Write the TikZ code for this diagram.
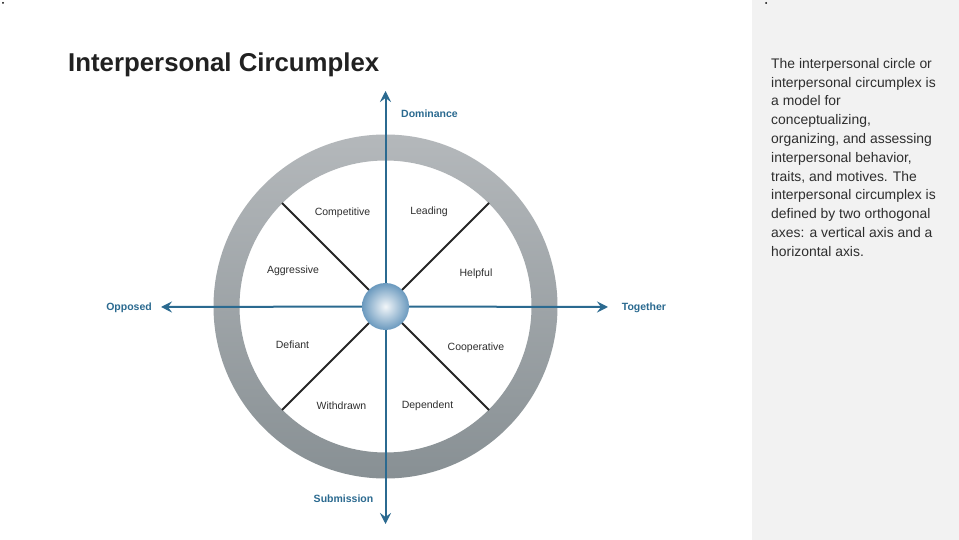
\documentclass[tikz,border=0pt]{standalone}
\usepackage{fontspec}
\setmainfont{Liberation Sans}
\usetikzlibrary{arrows.meta,calc}
\definecolor{axisblue}{HTML}{2B6A90}
\definecolor{ringtop}{HTML}{B4B8BB}
\definecolor{ringbot}{HTML}{889094}
\definecolor{ballout}{HTML}{6A99BE}
\definecolor{ballin}{HTML}{F2F6F9}
\definecolor{panel}{HTML}{F2F2F2}
\definecolor{txt}{HTML}{2E2E2E}
\definecolor{spk}{HTML}{262626}
\tikzset{
  axis/.style={draw=axisblue, line width=2pt, -{Stealth[length=11pt,width=11pt,inset=4pt]}},
  spoke/.style={draw=spk, line width=2pt},
  lab/.style={font=\fontsize{10.5}{12}\selectfont, text=txt, inner sep=0pt},
  pole/.style={font=\bfseries\fontsize{10.5}{12}\selectfont, text=axisblue, inner sep=0pt},
}
\begin{document}
\begin{tikzpicture}[x=1pt,y=-1pt]
\useasboundingbox (0,0) rectangle (959,540);
\fill[white] (0,0) rectangle (959,540);
\fill[panel] (752,0) rectangle (959,540);
\fill[black] (3,3) circle (1);
\fill[black] (766,3) circle (1);
% title
\node[anchor=base west, inner sep=0pt, font=\bfseries\fontsize{25.8}{30}\selectfont, text=black!87] (title) at (68,72) {Interpersonal Circumplex};
% ring
\coordinate (c) at (385.5,306.5);
\shade[top color=ringtop, bottom color=ringbot, even odd rule] (c) circle (172) (c) circle (146);
% spokes
\coordinate (ulo) at ($(c)+(-103.5,-103.5)$);
\coordinate (uro) at ($(c)+(103.5,-103.5)$);
\coordinate (llo) at ($(c)+(-103.5,103.5)$);
\coordinate (lro) at ($(c)+(103.5,103.5)$);
\coordinate (uli) at ($(c)+(-16,-16)$);
\coordinate (uri) at ($(c)+(16,-16)$);
\coordinate (lli) at ($(c)+(-16,16)$);
\coordinate (lri) at ($(c)+(16,16)$);
\draw[spoke] (uli) -- (ulo);
\draw[spoke] (uri) -- (uro);
\draw[spoke] (lli) -- (llo);
\draw[spoke] (lri) -- (lro);
% axes
\coordinate (top) at (385.5,91);
\coordinate (bot) at (385.5,524);
\coordinate (lft) at (161,307);
\coordinate (rgt) at (608,307);
\draw[axis] (c) -- (top);
\draw[axis] (c) -- (bot);
\draw[axis] (c) -- (lft);
\draw[axis] (c) -- (rgt);
% ball
\shade[inner color=ballin, outer color=ballout] (c) circle (23.5);
\node[draw=none, minimum size=47pt, inner sep=0pt, circle] (ball) at (c) {};
% pole labels
\node[pole] (dom) at (429.5,114) {Dominance};
\node[pole] (sub) at (343.5,499) {Submission};
\node[pole] (opp) at (129,308) {Opposed};
\node[pole] (tog) at (644,308) {Together};
% octant labels
\node[lab] (comp) at (342.5,213) {Competitive};
\node[lab] (lead) at (429,212) {Leading};
\node[lab] (aggr) at (293,271) {Aggressive};
\node[lab] (help) at (476,274) {Helpful};
\node[lab] (defi) at (292.5,345) {Defiant};
\node[lab] (coop) at (476,348) {Cooperative};
\node[lab] (with) at (341.5,406) {Withdrawn};
\node[lab] (depe) at (427.5,406) {Dependent};
% description
\node[anchor=north west, inner sep=0pt, align=left, text=txt, font=\fontsize{13.9}{18.8}\selectfont] (desc) at (771,58) {The interpersonal circle or\\interpersonal circumplex is\\a model for\\conceptualizing,\\organizing, and assessing\\interpersonal behavior,\\traits, and motives. The\\interpersonal circumplex is\\defined by two orthogonal\\axes: a vertical axis and a\\horizontal axis.};
\end{tikzpicture}
\end{document}
